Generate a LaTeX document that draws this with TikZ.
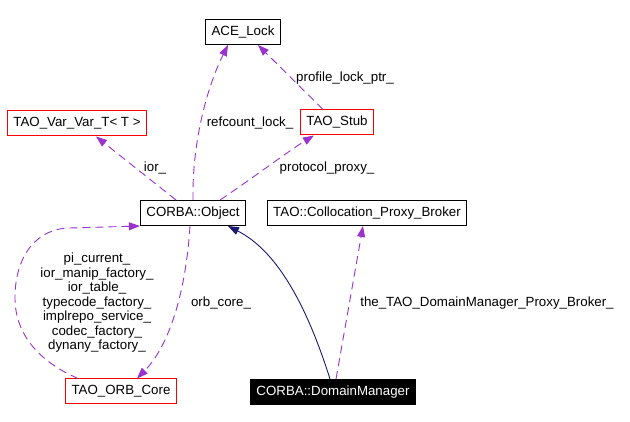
\documentclass[tikz,border=0pt]{standalone}
\usepackage{fontspec}
\setmainfont{Liberation Sans}
\usetikzlibrary{arrows.meta}
\definecolor{edgepurple}{HTML}{9A32CD}
\definecolor{navyedge}{HTML}{191970}
\begin{document}
\begin{tikzpicture}[x=1pt,y=-1pt,
  every node/.style={font=\fontsize{13.3}{14.5}\selectfont},
  cls/.style={draw=black,line width=1pt,inner xsep=6pt,inner ysep=0pt,minimum height=25pt,fill=white},
  redcls/.style={cls,draw=red},
  blackcls/.style={cls,fill=black,text=white},
  useedge/.style={draw=edgepurple,line width=0.9pt,dash pattern=on 8pt off 5pt,-{Triangle[length=11pt,width=8pt,fill=edgepurple]}},
  inhedge/.style={draw=navyedge,line width=0.9pt,-{Triangle[length=11pt,width=8pt,fill=navyedge]}},
  lbl/.style={inner sep=0pt,align=center}]
\useasboundingbox (0,0) rectangle (630,422);
\node[cls] (ace) at (243,32) {ACE\_Lock};
\node[redcls] (var) at (77,123.5) {TAO\_Var\_Var\_T< T >};
\node[redcls] (stub) at (337,122.5) {TAO\_Stub};
\node[cls] (obj) at (193,213) {CORBA::Object};
\node[cls] (coll) at (367,213) {TAO::Collocation\_Proxy\_Broker};
\node[redcls] (orb) at (121,391.5) {TAO\_ORB\_Core};
\node[blackcls] (dm) at (333,392) {CORBA::DomainManager};

\draw[useedge] (obj.north) .. controls (192,140) and (208,85) .. (ace.south -| 228,0);
\draw[useedge] (stub.north -| 323,0) -- (ace.south -| 258,0);
\draw[useedge] (obj.north -| 220,0) .. controls (250,180) and (290,150) .. (stub.south -| 314,0);
\draw[useedge] (obj.north -| 176,0) -- (var.south -| 96,0);
\draw[useedge] (orb.north -| 78,0) .. controls (40,362) and (15,335) .. (15,298) .. controls (15,252) and (40,228) .. (70,228) -- (obj.south west);
\draw[useedge] (obj.south -| 190,0) .. controls (186,290) and (170,345) .. (orb.north -| 137,0);
\draw[inhedge] (dm.north -| 330,0) .. controls (305,300) and (275,250) .. (obj.south -| 228,0);
\draw[useedge] (dm.north -| 336,0) -- (coll.south -| 363,0);

\node[lbl] (l1) at (250,123) {refcount\_lock\_};
\node[lbl] (l2) at (345,78) {profile\_lock\_ptr\_};
\node[lbl] (l3) at (327,168) {protocol\_proxy\_};
\node[lbl] (l4) at (155,168) {ior\_};
\node[lbl] (l5) at (97,303) {pi\_current\_\\ior\_manip\_factory\_\\ior\_table\_\\typecode\_factory\_\\implrepo\_service\_\\codec\_factory\_\\dynany\_factory\_};
\node[lbl] (l6) at (221,303) {orb\_core\_};
\node[lbl] (l7) at (487,303) {the\_TAO\_DomainManager\_Proxy\_Broker\_};
\end{tikzpicture}
\end{document}
